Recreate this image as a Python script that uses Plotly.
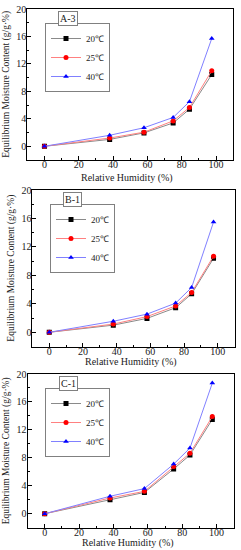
import plotly.graph_objects as go

rh = [0, 38, 58, 75, 84.5, 97.5]
series_names = ["20℃", "25℃", "40℃"]

a3_20 = [0, 1.0, 1.95, 3.4, 5.4, 10.45]
a3_25 = [0, 1.2, 2.05, 3.7, 5.65, 11.0]
a3_40 = [0, 1.6, 2.7, 4.2, 6.5, 15.7]

b1_20 = [0, 1.0, 1.95, 3.45, 5.4, 10.4]
b1_25 = [0, 1.15, 2.2, 3.7, 5.6, 10.7]
b1_40 = [0, 1.55, 2.55, 4.1, 6.3, 15.5]

c1_20 = [0, 2.0, 3.05, 6.4, 8.4, 13.5]
c1_25 = [0, 2.25, 3.2, 6.75, 8.65, 13.9]
c1_40 = [0, 2.5, 3.6, 7.1, 9.4, 18.7]

panel_labels = ["A-3", "B-1", "C-1"]
panels = [(a3_20, a3_25, a3_40), (b1_20, b1_25, b1_40), (c1_20, c1_25, c1_40)]

W, H = 241, 550
# frame boxes in pixels: left, right, top, bottom
boxes = [(27.3, 233.2, 9, 160), (32.4, 234.6, 190, 346.5), (27.5, 233.8, 374, 527.7)]
xtitle_off = [18, 15, 15]

line_cols = ["#8a8a8a", "#ff8080", "#8080ff"]
mk_cols = ["#000000", "#ff0000", "#0000ff"]
symbols = ["square", "circle", "triangle-up"]

FONT = "Liberation Serif"
fig = go.Figure()

for i, (vals, box) in enumerate(zip(panels, boxes)):
    l, r, t, b = box
    xa = "x" if i == 0 else f"x{i+1}"
    ya = "y" if i == 0 else f"y{i+1}"
    leg = "legend" if i == 0 else f"legend{i+1}"
    for j, v in enumerate(vals):
        fig.add_trace(go.Scatter(
            x=rh, y=v, mode="lines+markers", name=series_names[j],
            line=dict(color=line_cols[j], width=1),
            marker=dict(color=mk_cols[j], symbol=symbols[j], size=5),
            xaxis=xa, yaxis=ya, legend=leg, showlegend=True))
    axkw = dict(showline=True, linecolor="black", linewidth=1, mirror=True,
                showgrid=False, zeroline=False, ticks="inside", ticklen=4,
                tickcolor="black", automargin=False,
                tickfont=dict(family=FONT, size=10, color="#222"))
    xkey = "xaxis" if i == 0 else f"xaxis{i+1}"
    ykey = "yaxis" if i == 0 else f"yaxis{i+1}"
    fig.update_layout({
        xkey: dict(domain=[l / W, r / W], range=[-10, 110], dtick=20, tick0=0,
                   anchor=ya, ticklabelstandoff=-5,
                   minor=dict(ticks="inside", ticklen=2, dtick=10, tickcolor="black"),
                   **axkw),
        ykey: dict(domain=[1 - b / H, 1 - t / H], range=[-2, 20], dtick=4, tick0=0,
                   anchor=xa, ticklabelstandoff=-2,
                   minor=dict(ticks="inside", ticklen=2, dtick=2, tickcolor="black"),
                   **axkw),
        leg: dict(x=(45 + (5 if i == 1 else 0)) / W, y=1 - (t + 14) / H, xanchor="left", yanchor="top",
                  bgcolor="white", bordercolor="#808080", borderwidth=1,
                  font=dict(family=FONT, size=9, color="#222"), tracegroupgap=0,
                  itemwidth=30, xref="paper", yref="paper"),
    })
    # axis titles as annotations
    fig.add_annotation(text="Relative Humidity (%)", xref="paper", yref="paper",
                       x=((l + r) / 2 - 3) / W, y=1 - (b + xtitle_off[i]) / H, xanchor="center", yanchor="middle",
                       showarrow=False, font=dict(family=FONT, size=10, color="#222"))
    fig.add_annotation(text="Equilibrium Moisture Content (g/g·%)", xref="paper", yref="paper",
                       x=(l - 21) / W, y=1 - ((t + b) / 2) / H, xanchor="center", yanchor="middle",
                       textangle=-90, showarrow=False, font=dict(family=FONT, size=9.5, color="#222"))
    fig.add_annotation(text=panel_labels[i], xref="paper", yref="paper",
                       x=(l + 31) / W, y=1 - (t + 2) / H, xanchor="left", yanchor="top",
                       showarrow=False, font=dict(family=FONT, size=10, color="#222"),
                       bordercolor="#808080", borderwidth=1, borderpad=1, bgcolor="white")

fig.update_layout(width=W, height=H, margin=dict(l=0, r=0, t=0, b=0),
                  paper_bgcolor="white", plot_bgcolor="white", showlegend=True,
                  hovermode=False)
fig.write_html("out.html", config={"displayModeBar": False, "staticPlot": True},
               post_script="document.body.style.margin='0';document.body.style.padding='0';document.body.style.overflow='hidden';")
